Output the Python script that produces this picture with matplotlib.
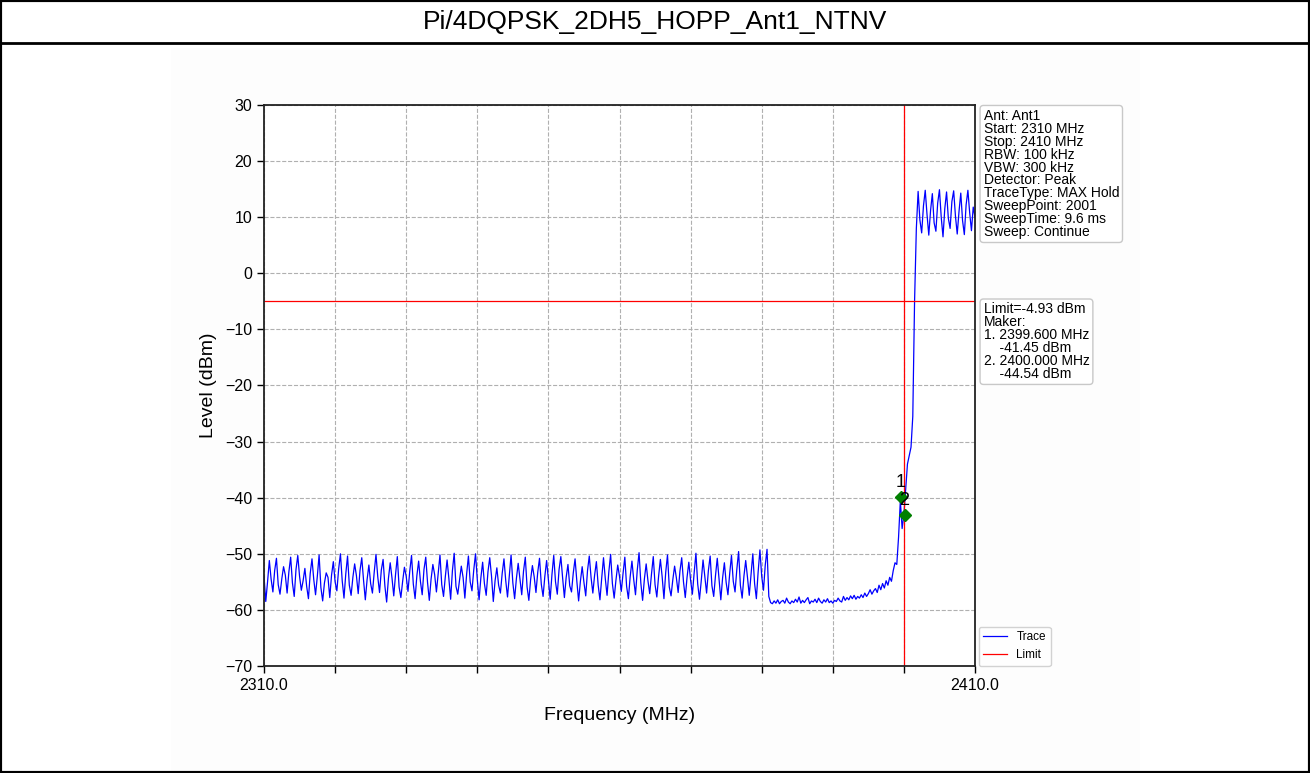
import numpy as np
import matplotlib
matplotlib.use("Agg")
import matplotlib.pyplot as plt
from matplotlib.patches import Rectangle
from matplotlib.lines import Line2D

plt.rcParams['font.family'] = ['Liberation Sans', 'DejaVu Sans']

title = "Pi/4DQPSK_2DH5_HOPP_Ant1_NTNV"

# sweep settings
f_start = 2310.0
f_stop = 2410.0
f_step = 0.25

# trace levels (dBm), 0.25 MHz apart, 2310.00 .. 2380.75
band_noise = [
    -54.0, -58.5, -55.0, -51.2,  -54.5, -56.8, -53.0, -50.8,
    -55.5, -57.2, -54.5, -52.3,  -53.8, -57.0, -53.2, -50.6,
    -55.2, -57.6, -52.8, -50.3,  -54.0, -56.5, -54.8, -52.6,
    -55.8, -58.0, -53.5, -50.9,  -54.6, -57.3, -54.0, -50.2,
    -56.0, -58.4, -55.2, -53.4,  -54.2, -57.8, -53.8, -51.4,
    -55.0, -56.6, -52.7, -50.0,  -54.8, -57.9, -53.6, -50.4,
    -55.6, -57.4, -54.2, -51.8,  -53.9, -57.1, -53.0, -50.7,
    -54.7, -58.2, -54.6, -52.0,  -55.3, -57.0, -53.3, -50.1,
    -54.1, -56.9, -52.9, -51.0,  -55.7, -58.6, -54.4, -51.6,
    -54.3, -57.5, -53.7, -50.5,  -55.9, -57.8, -54.9, -52.4,
    -54.0, -56.7, -53.1, -50.3,  -55.4, -58.0, -53.9, -51.3,
    -54.9, -57.3, -52.8, -50.6,  -55.1, -58.3, -54.5, -51.9,
    -53.7, -56.8, -53.4, -50.2,  -55.5, -57.6, -54.1, -51.1,
    -54.4, -58.1, -53.0, -49.9,  -55.8, -57.2, -54.7, -52.2,
    -54.2, -57.9, -53.6, -50.4,  -55.0, -56.6, -52.9, -50.0,
    -54.6, -58.2, -54.3, -51.5,  -55.3, -57.4, -53.2, -50.7,
    -54.0, -58.5, -54.8, -52.5,  -55.6, -57.0, -53.5, -50.9,
    -54.8, -57.7, -53.9, -50.2,  -55.2, -58.0, -54.4, -51.7,
    -54.5, -57.3, -53.1, -50.6,  -55.9, -58.3, -54.6, -52.1,
    -54.1, -56.9, -53.3, -50.8,  -55.4, -57.6, -54.0, -51.2,
    -54.7, -58.1, -53.7, -50.3,  -55.0, -57.2, -52.8, -50.5,
    -54.3, -57.8, -54.2, -51.9,  -55.7, -56.8, -53.4, -50.9,
    -54.9, -58.4, -54.9, -52.3,  -55.1, -57.5, -53.0, -50.4,
    -54.2, -57.0, -53.8, -51.4,  -55.6, -58.2, -54.3, -50.7,
    -54.4, -57.4, -53.2, -50.1,  -55.3, -57.9, -54.7, -52.0,
    -54.0, -56.7, -53.5, -50.6,  -55.8, -58.0, -54.1, -51.3,
    -54.6, -57.3, -52.9, -49.8,  -55.2, -58.3, -54.5, -51.8,
    -54.8, -57.1, -53.6, -50.5,  -55.5, -57.7, -54.0, -51.0,
    -54.1, -58.0, -53.3, -50.2,  -55.9, -57.5, -54.6, -52.2,
    -54.3, -56.9, -53.1, -50.7,  -55.0, -57.8, -54.2, -51.5,
    -54.7, -57.2, -53.4, -49.9,  -55.4, -58.1, -54.8, -51.1,
    -54.0, -57.0, -53.0, -50.4,  -55.7, -57.6, -53.9, -50.8,
    -54.5, -58.2, -54.3, -51.6,  -55.1, -57.3, -53.5, -50.3,
    -54.9, -56.8, -52.8, -49.6,  -55.6, -57.9, -54.0, -51.2,
    -54.2, -57.4, -53.6, -50.0,  -55.3, -58.0, -53.2, -49.3,
    -54.0, -56.5, -52.0, -49.2,
]

# 2381.00 .. 2398.75
quiet_floor = [
    -57.6, -58.7, -58.9, -58.4,  -58.8, -58.2, -58.9, -58.5,
    -58.3, -58.8, -57.9, -58.6,  -58.9, -58.4, -58.7, -58.1,
    -58.6, -57.7, -58.8, -58.3,  -58.7, -58.2, -57.8, -58.9,
    -58.4, -58.6, -58.1, -58.7,  -57.9, -58.5, -58.8, -58.2,
    -58.6, -58.0, -58.7, -58.4,  -58.8, -58.3, -58.5, -57.9,
    -58.4, -58.6, -57.6, -58.3,  -57.8, -58.2, -57.5, -58.0,
    -57.4, -58.1, -57.6, -57.9,  -57.3, -57.8, -57.0, -57.6,
    -57.1, -56.4, -57.2, -56.6,  -56.2, -56.9, -55.6, -56.4,
    -55.3, -56.1, -54.8, -55.6,  -54.2, -54.9, -53.0, -51.6,
]

# 2399.00 .. 2401.75
band_edge = [
    -51.9, -47.0, -40.5, -45.5,  -43.0, -38.5, -34.0, -32.5,
    -31.0, -25.5, -5.0, 8.0,
]

# 2402.00 .. 2410.00
inband = [
    14.6, 9.5, 7.2, 12.0,  14.8, 10.5, 6.8, 11.2,
    14.2, 9.0, 7.5, 12.5,  14.9, 10.0, 6.5, 11.5,
    14.5, 9.8, 8.0, 12.8,  14.7, 10.2, 7.0, 11.0,
    14.3, 9.4, 6.9, 12.2,  14.8, 10.8, 7.6, 11.8,
    10.0,
]

limit_dbm = -4.93
edge_freq = 2400.0

marker_freq = [2399.55, 2400.1]
marker_level = [-39.8, -43.0]
marker_names = ["1", "2"]

info_text = ("Ant: Ant1\nStart: 2310 MHz\nStop: 2410 MHz\nRBW: 100 kHz\n"
             "VBW: 300 kHz\nDetector: Peak\nTraceType: MAX Hold\n"
             "SweepPoint: 2001\nSweepTime: 9.6 ms\nSweep: Continue")
limit_text = ("Limit=-4.93 dBm\nMaker:\n1. 2399.600 MHz\n    -41.45 dBm\n"
              "2. 2400.000 MHz\n    -44.54 dBm")

level = np.array(band_noise + quiet_floor + band_edge + inband)
freq = f_start + f_step * np.arange(len(level))

W, H = 1310, 773
fig = plt.figure(figsize=(W / 100, H / 100), dpi=100)
fig.patch.set_facecolor("white")

# page frame and title bar
fig.add_artist(Rectangle((171 / W, 0), (1140 - 171) / W, 1 - 48 / H,
                         transform=fig.transFigure, fc="#fdfdfd", ec="none", zorder=0))
fig.add_artist(Rectangle((0, 0), 1, 1, transform=fig.transFigure,
                         fill=False, ec="black", lw=3, zorder=5))
fig.add_artist(Line2D([0, 1], [1 - 43 / H, 1 - 43 / H], transform=fig.transFigure,
                      color="black", lw=2, zorder=5))
fig.text(0.5, 1 - 22 / H, title, ha="center", va="center", fontsize=19)

ax = fig.add_axes([264 / W, (H - 666) / H, 711 / W, 561 / H])
ax.plot(freq, level, color="blue", lw=0.9, label="Trace")
ax.axhline(limit_dbm, color="red", lw=0.9, label="Limit")
ax.axvline(edge_freq, color="red", lw=0.9)
ax.plot(marker_freq, marker_level, "D", color="green", ms=6.5, ls="none")
for f, l, n in zip(marker_freq, marker_level, marker_names):
    ax.text(f, l + 1.0, n, ha="center", va="bottom", fontsize=13)

ax.set_xlim(f_start, f_stop)
ax.set_ylim(-70, 30)
ax.set_xticks(np.arange(f_start, f_stop + 1, 10))
ax.set_xticklabels(["2310.0"] + [""] * 9 + ["2410.0"])
ax.set_yticks(np.arange(-70, 31, 10))
ax.tick_params(direction="out", length=5, width=1, labelsize=11.5)
ax.grid(True, ls="--", color="#b0b0b0", lw=0.8)
for s in ax.spines.values():
    s.set_linewidth(1.3)
    s.set_color("#222222")
ax.set_xlabel("Frequency (MHz)", fontsize=14, labelpad=10)
ax.set_ylabel("Level (dBm)", fontsize=14, labelpad=6)

box = dict(boxstyle="round,pad=0.25", fc="white", ec="#c8c8c8", lw=1)
ax.text(1.012, 0.993, info_text, transform=ax.transAxes, va="top", ha="left",
        fontsize=10, linespacing=0.9, bbox=box)
ax.text(1.012, 0.648, limit_text, transform=ax.transAxes, va="top", ha="left",
        fontsize=10, linespacing=0.9, bbox=box)
ax.legend(loc="lower left", bbox_to_anchor=(1.005, 0.0), borderaxespad=0,
          fontsize=8.5, frameon=True, edgecolor="#c8c8c8", fancybox=True)

fig.savefig("out.png", dpi=100)
